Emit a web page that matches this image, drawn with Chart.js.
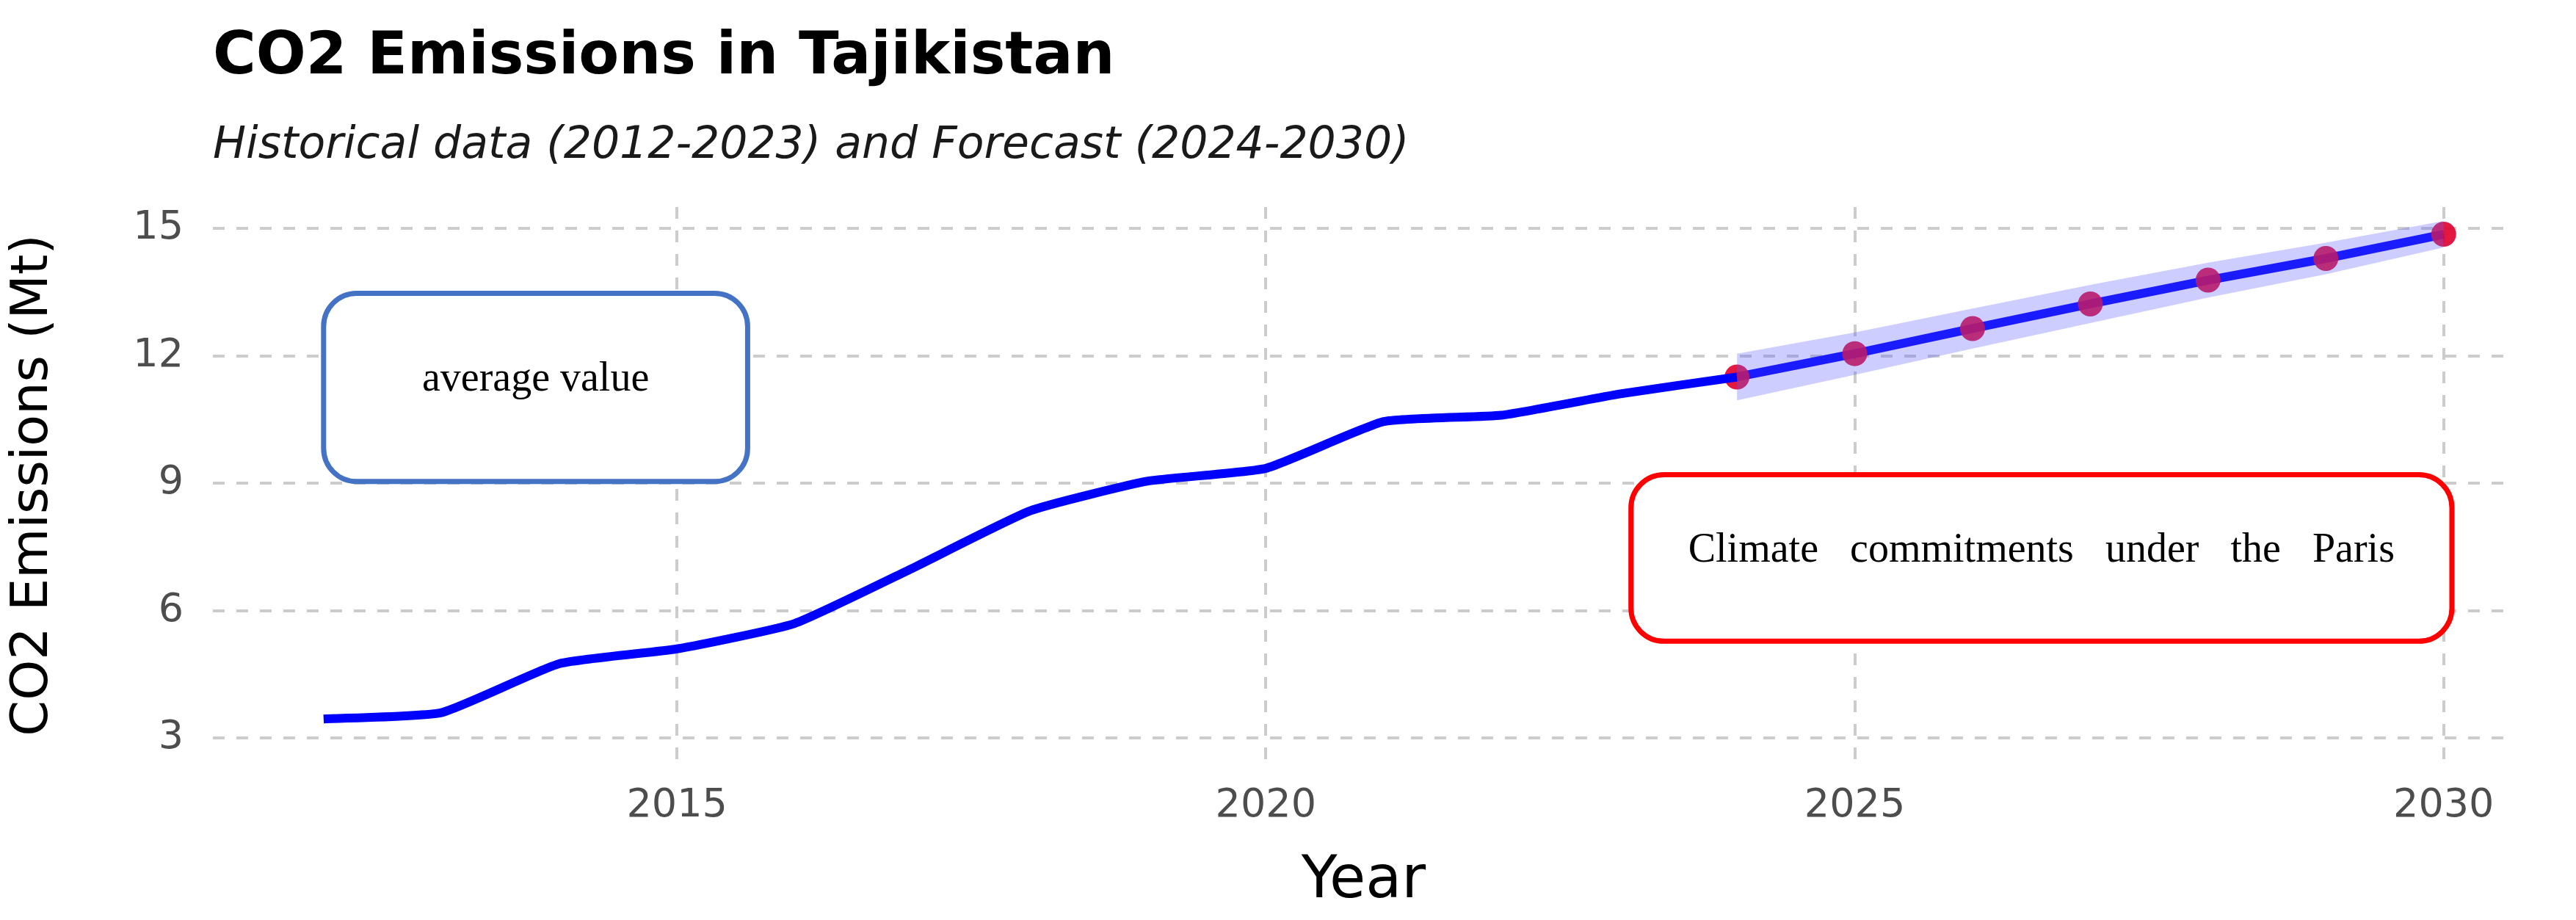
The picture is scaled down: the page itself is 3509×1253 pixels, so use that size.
<!DOCTYPE html>
<html>
<head>
<meta charset="utf-8">
<script src="https://cdn.jsdelivr.net/npm/chart.js@4.4.1/dist/chart.umd.min.js"></script>
<style>
  html, body { margin: 0; padding: 0; background: #ffffff; }
  #wrap { width: 3509px; height: 1253px; }
</style>
</head>
<body>
<div id="wrap"><canvas id="co2Chart" width="3509" height="1253"></canvas></div>
<script>
// --- Data ---
const histYears = [2012, 2013, 2014, 2015, 2016, 2017, 2018, 2019, 2020, 2021, 2022, 2023, 2024];
const histValues = [3.45, 3.6, 4.75, 5.1, 5.7, 7.0, 8.35, 9.05, 9.35, 10.45, 10.6, 11.1, 11.5];
const fcYears = [2024, 2025, 2026, 2027, 2028, 2029, 2030];
const fcValues = [11.5, 12.05, 12.64, 13.22, 13.78, 14.29, 14.86];
const fcLower = [10.95, 11.55, 12.17, 12.77, 13.37, 13.92, 14.55];
const fcUpper = [12.05, 12.55, 13.11, 13.67, 14.19, 14.66, 15.17];
const xTicks = [2015, 2020, 2025, 2030];
const yTicks = [3, 6, 9, 12, 15];

const pts = (xs, ys) => xs.map((x, i) => ({ x: x, y: ys[i] }));
const FONT = '"DejaVu Sans", Verdana, sans-serif';

// --- Titles and text boxes drawn on top ---
const decorPlugin = {
    id: 'decor',
    afterDraw(chart) {
        const ctx = chart.ctx;
        const xs = chart.scales.x, ys = chart.scales.y;
        ctx.save();
        ctx.fillStyle = '#000';
        ctx.textBaseline = 'alphabetic';
        ctx.textAlign = 'left';
        ctx.font = 'bold 80px ' + FONT;
        ctx.fillText('CO2 Emissions in Tajikistan', 290, 100);
        ctx.font = 'oblique 60px ' + FONT;
        ctx.fillStyle = '#1a1a1a';
        ctx.fillText('Historical data (2012-2023) and Forecast (2024-2030)', 290, 215);

        function box(x0, x1, y0, y1, color, words) {
            const l = xs.getPixelForValue(x0), r = xs.getPixelForValue(x1);
            const t = ys.getPixelForValue(y0), b = ys.getPixelForValue(y1);
            ctx.beginPath();
            ctx.roundRect(l, t, r - l, b - t, 45);
            ctx.fillStyle = '#fff';
            ctx.fill();
            ctx.lineWidth = 7;
            ctx.strokeStyle = color;
            ctx.stroke();
            ctx.fillStyle = '#000';
            ctx.font = '56px "Liberation Serif", "Times New Roman", serif';
            ctx.textBaseline = 'middle';
            ctx.textAlign = 'center';
            const cy = (t + b) / 2 - 10;
            if (words.length === 1) {
                ctx.fillText(words[0], (l + r) / 2, cy);
            } else {
                // spread words like justified text
                const pad = 78;
                const widths = words.map(w => ctx.measureText(w).width);
                const total = widths.reduce((a, c) => a + c, 0);
                const gap = (r - l - 2 * pad - total) / (words.length - 1);
                let x = l + pad;
                ctx.textAlign = 'left';
                words.forEach((w, i) => { ctx.fillText(w, x, cy); x += widths[i] + gap; });
            }
        }
        box(2012, 2015.6, 13.47, 9.04, '#4472c4', ['average value']);
        box(2023.1, 2030.07, 9.2, 5.28, '#ff0000', ['Climate', 'commitments', 'under', 'the', 'Paris']);
        ctx.restore();
    }
};

const ctx = document.getElementById('co2Chart').getContext('2d');
new Chart(ctx, {
    type: 'line',
    data: {
        datasets: [
            {
                label: 'lower',
                data: pts(fcYears, fcLower),
                borderWidth: 0,
                pointRadius: 0,
                fill: false
            },
            {
                label: 'upper',
                data: pts(fcYears, fcUpper),
                borderWidth: 0,
                pointRadius: 0,
                backgroundColor: 'rgba(90, 90, 255, 0.3)',
                fill: '-1'
            },
            {
                label: 'Historical',
                data: pts(histYears, histValues),
                borderColor: '#0000ff',
                borderWidth: 12,
                pointRadius: 0,
                tension: 0.15,
                fill: false
            },
            {
                label: 'Forecast',
                data: pts(fcYears, fcValues),
                borderColor: '#0000ff',
                borderWidth: 12,
                pointRadius: 17,
                pointBackgroundColor: 'rgba(225, 0, 45, 0.9)',
                pointBorderWidth: 0,
                fill: false
            }
        ]
    },
    options: {
        responsive: false,
        animation: false,
        layout: { padding: { top: 282, right: 84, left: 0, bottom: 0 } },
        plugins: {
            legend: { display: false },
            tooltip: { enabled: false }
        },
        scales: {
            x: {
                type: 'linear',
                min: 2011.06,
                max: 2030.6,
                afterBuildTicks: axis => { axis.ticks = xTicks.map(v => ({ value: v })); },
                afterFit: axis => { axis.height = 213; },
                border: { display: false, dash: [16, 16] },
                grid: { color: '#cccccc', lineWidth: 4, drawTicks: false },
                ticks: {
                    color: '#4d4d4d',
                    padding: 26,
                    callback: v => String(v),
                    font: { size: 54, family: FONT }
                },
                title: {
                    display: true,
                    text: 'Year',
                    color: '#000',
                    padding: { top: 0 },
                    font: { size: 80, family: FONT }
                }
            },
            y: {
                min: 2.4,
                max: 15.5,
                afterBuildTicks: axis => { axis.ticks = yTicks.map(v => ({ value: v })); },
                afterFit: axis => { axis.width = 290; },
                border: { display: false, dash: [16, 16] },
                grid: { color: '#cccccc', lineWidth: 4, drawTicks: false },
                ticks: {
                    color: '#4d4d4d',
                    padding: 40,
                    font: { size: 54, family: FONT }
                },
                title: {
                    display: true,
                    text: 'CO2 Emissions (Mt)',
                    color: '#000',
                    padding: { bottom: 10 },
                    font: { size: 70, family: FONT }
                }
            }
        }
    },
    plugins: [decorPlugin]
});
</script>
</body>
</html>
